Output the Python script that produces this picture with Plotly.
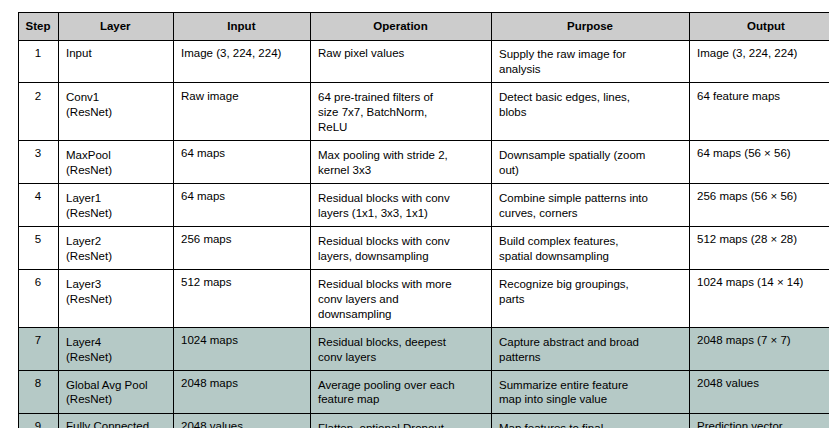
import plotly.graph_objects as go

header = ["Step", "Layer", "Input", "Operation", "Purpose", "Output"]
steps = ["1", "2", "3", "4", "5", "6", "7", "8", "9"]
layers = ["Input", "Conv1<br>(ResNet)", "MaxPool<br>(ResNet)", "Layer1<br>(ResNet)", "Layer2<br>(ResNet)",
          "Layer3<br>(ResNet)", "Layer4<br>(ResNet)", "Global Avg Pool<br>(ResNet)", "Fully Connected"]
inputs = ["Image (3, 224, 224)", "Raw image", "64 maps", "64 maps", "256 maps", "512 maps",
          "1024 maps", "2048 maps", "2048 values"]
operations = ["Raw pixel values",
              "64 pre-trained filters of<br>size 7x7, BatchNorm,<br>ReLU",
              "Max pooling with stride 2,<br>kernel 3x3",
              "Residual blocks with conv<br>layers (1x1, 3x3, 1x1)",
              "Residual blocks with conv<br>layers, downsampling",
              "Residual blocks with more<br>conv layers and<br>downsampling",
              "Residual blocks, deepest<br>conv layers",
              "Average pooling over each<br>feature map",
              "Flatten, optional Dropout,<br>Dense (linear) layer"]
purposes = ["Supply the raw image for<br>analysis",
            "Detect basic edges, lines,<br>blobs",
            "Downsample spatially (zoom<br>out)",
            "Combine simple patterns into<br>curves, corners",
            "Build complex features,<br>spatial downsampling",
            "Recognize big groupings,<br>parts",
            "Capture abstract and broad<br>patterns",
            "Summarize entire feature<br>map into single value",
            "Map features to final<br>prediction classes"]
outputs = ["Image (3, 224, 224)", "64 feature maps", "64 maps (56 × 56)", "256 maps (56 × 56)",
           "512 maps (28 × 28)", "1024 maps (14 × 14)", "2048 maps (7 × 7)", "2048 values",
           "Prediction vector"]
highlighted = [False] * 6 + [True] * 3

row_colors = ["#b5c9c6" if h else "white" for h in highlighted]
font = dict(family="Liberation Sans", size=11.5, color="black")

fig = go.Figure(go.Table(
    columnwidth=[40, 115, 137, 181, 198, 154],
    header=dict(values=["<b>%s</b>" % h for h in header], fill_color="#cccccc",
                line=dict(color="black", width=1), align="center",
                font=font, height=26),
    cells=dict(values=[steps, layers, inputs, operations, purposes, outputs],
               fill_color=[row_colors] * 6, line=dict(color="black", width=1),
               align=["center", "left", "left", "left", "left", "left"],
               font=font, height=18),
    domain=dict(x=[10 / 837, 835 / 837], y=[0, 1]),
))
fig.update_layout(width=837, height=428, margin=dict(l=0, r=0, t=4, b=0), paper_bgcolor="white")
fig.write_html("out.html")
